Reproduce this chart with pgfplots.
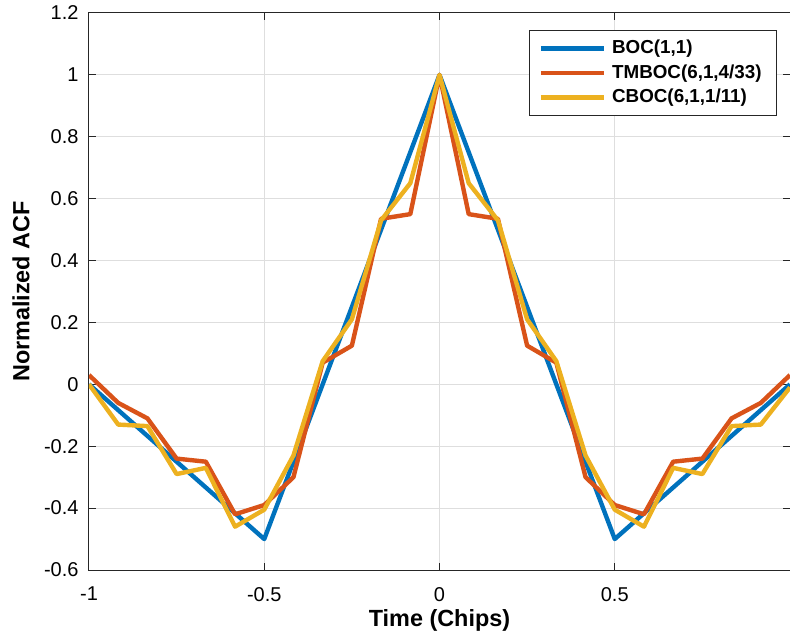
\documentclass[border=0pt]{standalone}
\usepackage{fontspec}
\setmainfont{Liberation Sans}
\usepackage{pgfplots}
\pgfplotsset{compat=1.18}
\definecolor{mblue}{rgb}{0,0.447,0.741}
\definecolor{morange}{rgb}{0.850,0.325,0.098}
\definecolor{myellow}{rgb}{0.929,0.694,0.125}

\begin{document}
\begin{tikzpicture}
\begin{axis}[name=ax,scale only axis,width=350.5pt,height=278.5pt,
  xmin=-1,xmax=1,ymin=-0.6,ymax=1.2,
  xtick={-1,-0.5,0,0.5,1},xticklabels={-1,-0.5,0,0.5,{}},
  ytick={-0.6,-0.4,-0.2,0,0.2,0.4,0.6,0.8,1,1.2},
  /pgf/number format/assume math mode=true,
  font=\fontsize{10}{12}\selectfont,
  grid=major,grid style={color=black!13,line width=0.5pt},
  axis line style={color=black!85,line width=0.5pt},
  tick style={color=black!85,line width=0.5pt},
  tick align=inside,major tick length=3.5pt,
  xticklabel style={yshift=-5pt},
  yticklabel style={xshift=-1.7pt},
  xlabel={Time (Chips)},ylabel={Normalized ACF},
  label style={font=\fontsize{11.7}{14}\selectfont\bfseries},
  xlabel style={at={(axis description cs:0.5,-0.1023)},anchor=base},
  ylabel style={at={(axis description cs:-0.0852,0.5)},anchor=base},
  legend style={at={(axis description cs:0.9815,0.9695)},anchor=north east,
    font=\fontsize{9.4}{11}\selectfont\bfseries,draw=black!85,line width=0.5pt,
    row sep=0pt,inner xsep=4.5pt,inner ysep=2.8pt,
    nodes={inner xsep=3pt}},
  legend cell align=left,
  legend image code/.code={\draw[#1] (0pt,0pt) -- (31.5pt,0pt);},
  every axis plot/.append style={line width=2.2pt,line join=round}]
\addplot[mblue] coordinates {(-1,0)(-0.5,-0.5)(0,1)(0.5,-0.5)(1,0)};
\addplot[morange] coordinates {
(-1,0.03)(-0.9167,-0.06)(-0.8333,-0.11)(-0.75,-0.24)(-0.6667,-0.25)(-0.5833,-0.42)
(-0.5,-0.39)(-0.4167,-0.30)(-0.3333,0.07)(-0.25,0.125)(-0.1667,0.535)(-0.0833,0.55)
(0,1)
(0.0833,0.55)(0.1667,0.535)(0.25,0.125)(0.3333,0.07)(0.4167,-0.30)(0.5,-0.39)
(0.5833,-0.42)(0.6667,-0.25)(0.75,-0.24)(0.8333,-0.11)(0.9167,-0.06)(1,0.03)};
\addplot[myellow] coordinates {
(-1,0)(-0.9167,-0.13)(-0.8333,-0.135)(-0.75,-0.29)(-0.6667,-0.27)(-0.5833,-0.46)
(-0.5,-0.405)(-0.4167,-0.23)(-0.3333,0.075)(-0.25,0.21)(-0.1667,0.53)(-0.0833,0.65)
(0,1)
(0.0833,0.65)(0.1667,0.53)(0.25,0.21)(0.3333,0.075)(0.4167,-0.23)(0.5,-0.405)
(0.5833,-0.46)(0.6667,-0.27)(0.75,-0.29)(0.8333,-0.135)(0.9167,-0.13)(1,-0.01)};
\legend{{BOC(1,1)},{TMBOC(6,1,4/33)},{CBOC(6,1,1/11)}}
\end{axis}
\pgfresetboundingbox
\path[use as bounding box] ([xshift=-44.5pt,yshift=-36pt]ax.south west) rectangle ([yshift=6.5pt]ax.north east);
\end{tikzpicture}
\end{document}
